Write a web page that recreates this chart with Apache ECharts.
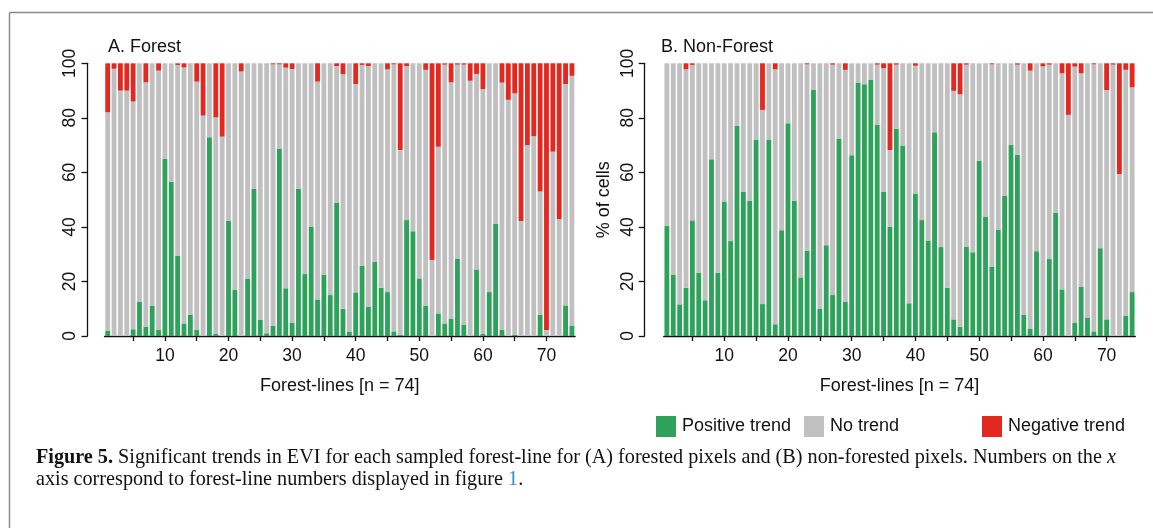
<!DOCTYPE html>
<html>
<head>
<meta charset="utf-8">
<script src="https://cdn.jsdelivr.net/npm/echarts@6/dist/echarts.min.js"></script>
<style>
html,body{margin:0;padding:0;background:#fff;}
#chart{width:1153px;height:528px;}
</style>
</head>
<body>
<div id="chart"></div>
<script>
// Forest-line numbers 1..74
const forestLines = [];
for (let i = 1; i <= 74; i++) forestLines.push(String(i));

// Panel A: Forest — % cells with positive / negative trend
const positiveA = [2, 0, 0, 0, 2.5, 12.5, 3.4, 11, 2.2, 65, 56.6, 29.5, 4.6, 7.7, 2.2, 0, 72.9, 0.7, 0, 42.3,
  16.9, 0, 21.1, 53.9, 5.9, 1.0, 3.7, 68.8, 17.5, 4.9, 53.9, 22.7, 40.1, 13.4, 22.5, 15.0, 48.8, 10.0, 1.5, 16.0,
  25.8, 10.8, 27.3, 17.7, 16.1, 1.7, 0.5, 42.5, 38.4, 21.1, 11.0, 0, 8.3, 4.6, 6.4, 28.4, 4.2, 0, 24.4, 0.7,
  16.1, 41.1, 2.2, 0, 0.5, 0, 0, 0, 7.7, 0, 0, 0, 11.2, 3.7];
const negativeA = [18, 2, 10, 10, 14, 0, 7, 0, 2.7, 0, 0, 0.6, 1.5, 0, 6.7, 19.2, 0, 19.8, 26.9, 0,
  0, 3, 0, 0, 0, 0, 0.4, 0.4, 1.6, 2.1, 0, 0, 0, 6.7, 0, 0, 1, 4, 0, 7.6,
  0.6, 1, 0, 0, 2.2, 0.4, 31.8, 1, 0, 0, 2.4, 72.1, 30.6, 0.5, 7, 0.5, 0.5, 6.4, 3.9, 9.5,
  0, 0, 7.1, 13.4, 11, 57.8, 30, 26.7, 47, 97.8, 32.4, 57.2, 7.6, 4.6];

// Panel B: Non-Forest
const positiveB = [40.3, 22.4, 11.6, 17.7, 42.4, 23.2, 13.1, 64.8, 23.2, 49.3, 34.8, 77.0, 52.8, 49.6, 72.1, 11.7, 72.1, 4.3, 38.8, 78.0,
  49.6, 21.5, 31.3, 90.2, 10.0, 33.3, 15.0, 72.4, 12.6, 66.3, 93.0, 92.3, 94.1, 77.4, 52.8, 40.0, 76.0, 69.9, 12.0, 52.3,
  42.5, 35.0, 74.7, 32.6, 17.7, 6.1, 3.4, 32.8, 30.7, 64.2, 43.8, 25.3, 38.9, 51.5, 70.0, 66.4, 7.7, 2.6, 31.1, 0,
  28.2, 45.1, 17.1, 0, 4.8, 18.0, 6.6, 1.7, 32.2, 6.1, 0, 0, 7.5, 16.1];
const negativeB = [0, 0, 0, 2.2, 0.6, 0, 0, 0, 0, 0, 0, 0, 0, 0, 0, 17.1, 0, 2.2, 0, 0,
  0, 0, 0.4, 0, 0, 0, 0.5, 0, 2.4, 0, 0, 0, 0, 0.5, 1.8, 31.8, 0.5, 0, 0, 0.9,
  0, 0, 0, 0, 0, 10.1, 11.4, 0.5, 0, 0, 0, 0.4, 0, 0, 0, 0.5, 0, 2.7, 0, 1.1,
  0.5, 0, 3.7, 18.9, 1.2, 3.7, 0, 0.4, 0, 9.8, 0.5, 40.6, 2.4, 8.8];

const yTicks = [0, 20, 40, 60, 80, 100];
const trendNames = ['Positive trend', 'No trend', 'Negative trend'];
const trendColors = ['#2ea25a', '#c0c0c0', '#e2281f'];

const noneA = positiveA.map((p, i) => +(100 - p - negativeA[i]).toFixed(2));
const noneB = positiveB.map((p, i) => +(100 - p - negativeB[i]).toFixed(2));

const FONT = 'Liberation Sans, Arial, sans-serif';
const SERIF = 'Liberation Serif, Times New Roman, serif';

function xAxis(gridIndex) {
  return {
    type: 'category', gridIndex, data: forestLines, offset: 3,
    name: 'Forest-lines [n = 74]', nameLocation: 'middle', nameGap: 38,
    nameTextStyle: { fontFamily: FONT, fontSize: 18, color: '#111' },
    axisLine: { show: true, lineStyle: { color: '#111', width: 1.3 } },
    axisTick: { show: true, alignWithLabel: true, length: 5, lineStyle: { color: '#111', width: 1.3 },
      interval: (i) => (i + 1) % 5 === 0 },
    axisLabel: { fontFamily: FONT, fontSize: 17.5, color: '#111', margin: 8,
      interval: (i) => (i + 1) % 10 === 0 },
    splitLine: { show: false }
  };
}
function yAxis(gridIndex, offset, withName) {
  return {
    type: 'value', gridIndex, min: 0, max: 100, interval: 20, offset,
    name: withName ? '% of cells' : '', nameLocation: 'middle', nameGap: 32,
    nameTextStyle: { fontFamily: FONT, fontSize: 18, color: '#111' },
    axisLine: { show: true, lineStyle: { color: '#111', width: 1.3 } },
    axisTick: { show: true, length: 6, lineStyle: { color: '#111', width: 1.3 } },
    axisLabel: { fontFamily: FONT, fontSize: 17.5, color: '#111', rotate: 90, margin: 8,
      formatter: (v) => (yTicks.indexOf(v) >= 0 ? String(v) : '') },
    splitLine: { show: false }
  };
}
function bars(idx, pos, none, neg) {
  const vals = [pos, none, neg];
  return vals.map((d, k) => ({
    type: 'bar', name: trendNames[k], xAxisIndex: idx, yAxisIndex: idx, stack: 'p' + idx,
    data: d, barCategoryGap: '24%', itemStyle: { color: trendColors[k] },
    emphasis: { disabled: true }, silent: true
  }));
}
function legendItem(name, left) {
  return { data: [name], left, top: 416, padding: 0, itemWidth: 20, itemHeight: 21, icon: 'rect',
    selectedMode: false, itemGap: 6, textStyle: { fontFamily: FONT, fontSize: 18, color: '#111', padding: [0, 0, 0, 1] } };
}

const chart = echarts.init(document.getElementById('chart'), null, { renderer: 'canvas' });
chart.setOption({
  animation: false,
  backgroundColor: '#fff',
  title: [
    { text: 'A. Forest', left: 103, top: 33, textStyle: { fontFamily: FONT, fontSize: 18, fontWeight: 'normal', color: '#111' } },
    { text: 'B. Non-Forest', left: 656, top: 33, textStyle: { fontFamily: FONT, fontSize: 18, fontWeight: 'normal', color: '#111' } }
  ],
  legend: [
    legendItem('Positive trend', 656),
    legendItem('No trend', 804),
    legendItem('Negative trend', 982)
  ],
  grid: [
    { left: 104.5, top: 63.3, width: 470.6, height: 272.7 },
    { left: 663.7, top: 63.3, width: 471.6, height: 272.7 }
  ],
  xAxis: [xAxis(0), xAxis(1)],
  yAxis: [yAxis(0, 17, false), yAxis(1, 19, true)],
  series: [...bars(0, positiveA, noneA, negativeA), ...bars(1, positiveB, noneB, negativeB)],
  graphic: [
    { type: 'line', shape: { x1: 9.5, y1: 12.5, x2: 1153, y2: 12.5 }, style: { stroke: '#8a8a8a', lineWidth: 1.5 }, silent: true },
    { type: 'line', shape: { x1: 9.5, y1: 12.5, x2: 9.5, y2: 528 }, style: { stroke: '#8a8a8a', lineWidth: 1.5 }, silent: true },
    { type: 'text', left: 36, top: 447, silent: true,
      style: {
        text: '{b|Figure 5.} Significant trends in EVI for each sampled forest-line for (A) forested pixels and (B) non-forested pixels. Numbers on the {i|x}\naxis correspond to forest-line numbers displayed in figure {l|1}.',
        font: '20.2px ' + SERIF, fill: '#111', lineHeight: 22,
        rich: {
          b: { fontFamily: SERIF, fontSize: 20.2, fontWeight: 'bold', fill: '#111', lineHeight: 22 },
          i: { fontFamily: SERIF, fontSize: 20.2, fontStyle: 'italic', fill: '#111', lineHeight: 22 },
          l: { fontFamily: SERIF, fontSize: 20.2, fill: '#2a8fd0', lineHeight: 22 }
        }
      } }
  ]
});
</script>
</body>
</html>
